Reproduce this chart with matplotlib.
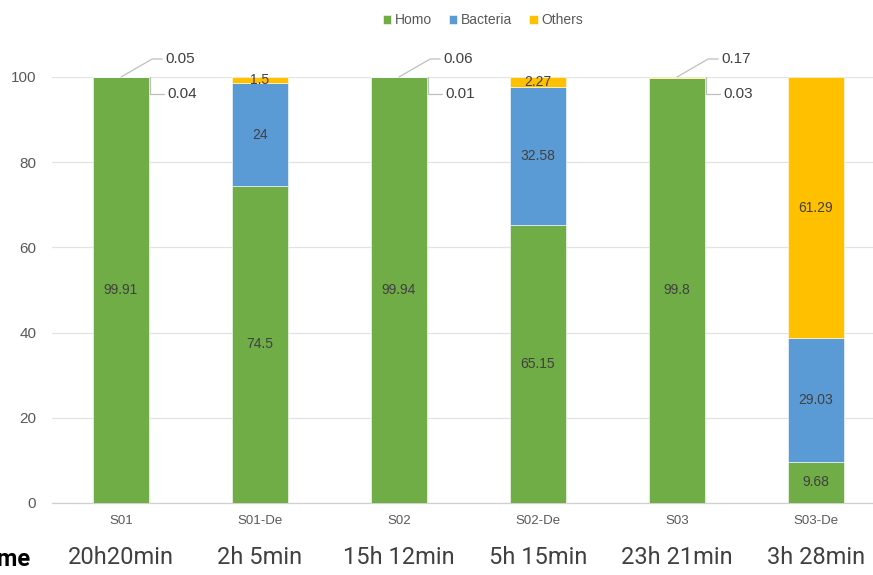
import matplotlib
matplotlib.use('Agg')
import matplotlib.pyplot as plt
import numpy as np

#
#--- chart data
#
samples  = ['S01', 'S01-De', 'S02', 'S02-De', 'S03', 'S03-De']
times    = ['20h20min', '2h 5min', '15h 12min', '5h 15min', '23h 21min', '3h 28min']
homo     = [99.91, 74.5, 99.94, 65.15, 99.8, 9.68]
bacteria = [0.04, 24, 0.01, 32.58, 0.03, 29.03]
others   = [0.05, 1.5, 0.06, 2.27, 0.17, 61.29]

series = [('Homo', homo, '#70AD47'),
          ('Bacteria', bacteria, '#5B9BD5'),
          ('Others', others, '#FFC000')]

plt.rcParams['font.family'] = ['Liberation Sans', 'DejaVu Sans']

fig = plt.figure(figsize=(8.73, 5.75), dpi=100)
ax = fig.add_axes([51.5 / 873, 1 - 503 / 575, 834 / 873, 426 / 575])

x = np.arange(len(samples))
width = 0.4
bottom = np.zeros(len(samples))
handles = []
for name, vals, col in series:
    vals = np.array(vals, dtype=float)
    bc = ax.bar(x, vals, width, bottom=bottom, color=col, edgecolor='white',
                linewidth=0.4, label=name, zorder=3)
    handles.append(bc)
#
#--- inline labels only for segments big enough
#
    labs = ['%g' % v if v >= 1 else '' for v in vals]
    ax.bar_label(bc, labels=labs, label_type='center', color='#404040',
                 fontsize=10, zorder=4)
    bottom += vals

#
#--- callout labels for tiny segments (bacteria below, others above)
#
for i in range(len(samples)):
    if bacteria[i] < 1 and others[i] < 1:
        ax.annotate('%g' % others[i], xy=(x[i], 100), xytext=(44, 18),
                    textcoords='offset pixels', ha='left', va='center',
                    fontsize=11, color='#404040', annotation_clip=False,
                    arrowprops=dict(arrowstyle='-', color='#BFBFBF', lw=0.9,
                                    relpos=(0, 0.5), shrinkA=0, shrinkB=0,
                                    connectionstyle='angle,angleA=0,angleB=30,rad=0'))
        ax.annotate('%g' % bacteria[i], xy=(x[i] + width / 2 + 0.008, 100), xytext=(17, -17),
                    textcoords='offset pixels', ha='left', va='center',
                    fontsize=11, color='#404040', annotation_clip=False,
                    arrowprops=dict(arrowstyle='-', color='#BFBFBF', lw=0.9,
                                    relpos=(0, 0.5), shrinkA=0, shrinkB=0,
                                    connectionstyle='angle,angleA=0,angleB=90,rad=0'))

ax.set_xlim(-0.5, len(samples) - 0.5)
ax.set_ylim(0, 100)
ax.set_yticks(np.arange(0, 101, 20))
ax.yaxis.grid(True, color='#E3E3E3', lw=0.9, zorder=0)
ax.set_axisbelow(True)
for s in ['top', 'right', 'left']:
    ax.spines[s].set_visible(False)
ax.spines['bottom'].set_color('#D0D0D0')
ax.spines['bottom'].set_linewidth(0.9)
ax.tick_params(axis='y', length=0, pad=11, labelsize=11, labelcolor='#595959')
ax.tick_params(axis='x', length=0, pad=9, labelsize=9.5, labelcolor='#595959')
ax.set_xticks(x)
ax.set_xticklabels(samples)

#
#--- time row under the categories
#
for i, t in enumerate(times):
    ax.text(x[i], -12.8, t, ha='center', va='center', fontsize=17,
            family='Roboto', color='#404040', clip_on=False)
fig.text(31 / 873, 1 - 560 / 575, 'Time', ha='right', va='center', fontsize=17,
         fontweight='bold', family='Roboto', color='black')

leg = fig.legend(handles=handles, loc='center', bbox_to_anchor=(483 / 873, 1 - 20 / 575),
                 ncol=3, frameon=False, fontsize=10, handlelength=0.6, handleheight=0.6,
                 handletextpad=0.3, columnspacing=1.2, labelcolor='#595959')

plt.savefig('out.png', dpi=100)
plt.close('all')
